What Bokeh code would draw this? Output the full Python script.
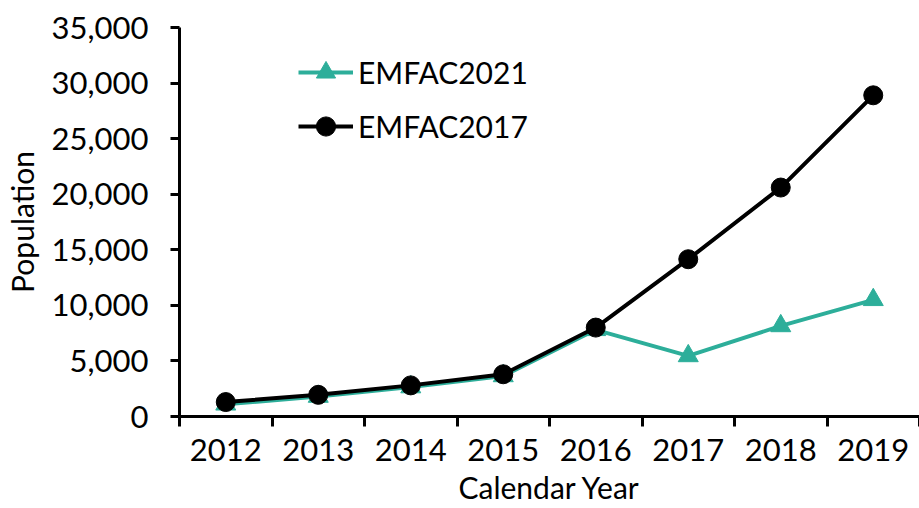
from bokeh.plotting import figure
from bokeh.models import Range1d, FixedTicker, NumeralTickFormatter, Legend, LegendItem
from bokeh.embed import file_html
from bokeh.resources import INLINE

years = [2012, 2013, 2014, 2015, 2016, 2017, 2018, 2019]
emfac2021 = [1100, 1800, 2650, 3650, 7800, 5450, 8150, 10500]
emfac2017 = [1300, 1950, 2800, 3800, 8000, 14150, 20600, 28900]
y_ticks = [0, 5000, 10000, 15000, 20000, 25000, 30000, 35000]

FONT = "Lato"
TEAL = "#2DAE9A"
FS = "31px"

p = figure(width=919, height=508, output_backend="svg", toolbar_location=None,
           x_range=Range1d(years[0] - 0.5, years[-1] + 0.5),
           y_range=Range1d(y_ticks[0], y_ticks[-1]),
           min_border_left=178, min_border_right=0, min_border_top=27, min_border_bottom=92)
p.outline_line_color = None
p.xgrid.visible = False
p.ygrid.visible = False

l1 = p.line(years, emfac2021, line_color=TEAL, line_width=4)
m1 = p.scatter(years, emfac2021, marker="triangle", size=20, fill_color=TEAL, line_color=TEAL)
l2 = p.line(years, emfac2017, line_color="black", line_width=4)
m2 = p.scatter(years, emfac2017, marker="circle", size=19, fill_color="black", line_color="black")

legend = Legend(items=[LegendItem(label="EMFAC2021", renderers=[l1, m1]),
                       LegendItem(label="EMFAC2017", renderers=[l2, m2])],
                location=(119, 266), padding=0, margin=0, spacing=6,
                glyph_width=55, glyph_height=48, label_height=48, label_standoff=5,
                label_text_font=FONT, label_text_font_size="30px", label_text_color="black",
                border_line_alpha=0, background_fill_alpha=0)
p.add_layout(legend, "center")

# x axis
p.xaxis.ticker = FixedTicker(ticks=years, minor_ticks=[y - 0.5 for y in years] + [years[-1] + 0.5])
p.xaxis.major_tick_out = 0
p.xaxis.major_tick_in = 0
p.xaxis.minor_tick_out = 10
p.xaxis.minor_tick_in = 0
p.xaxis.minor_tick_line_width = 3
p.xaxis.minor_tick_line_color = "black"
p.xaxis.axis_line_width = 3
p.xaxis.axis_line_color = "black"
p.xaxis.axis_label = "Calendar Year"
p.xaxis.major_label_standoff = 12
p.xaxis.axis_label_standoff = 5

# y axis
p.yaxis.ticker = FixedTicker(ticks=y_ticks, minor_ticks=[])
p.yaxis.formatter = NumeralTickFormatter(format="0,0")
p.yaxis.major_tick_out = 9
p.yaxis.major_tick_in = 0
p.yaxis.major_tick_line_width = 3
p.yaxis.major_tick_line_color = "black"
p.yaxis.axis_line_width = 3
p.yaxis.axis_line_color = "black"
p.yaxis.axis_label = "Population"
p.yaxis.major_label_standoff = 22
p.yaxis.axis_label_standoff = 9

for ax in (p.xaxis, p.yaxis):
    ax.major_label_text_font = FONT
    ax.major_label_text_font_size = FS
    ax.major_label_text_color = "black"
    ax.axis_label_text_font = FONT
    ax.axis_label_text_font_size = "30px"
    ax.axis_label_text_font_style = "normal"
    ax.axis_label_text_color = "black"

open("out.html", "w").write(file_html(p, INLINE))
